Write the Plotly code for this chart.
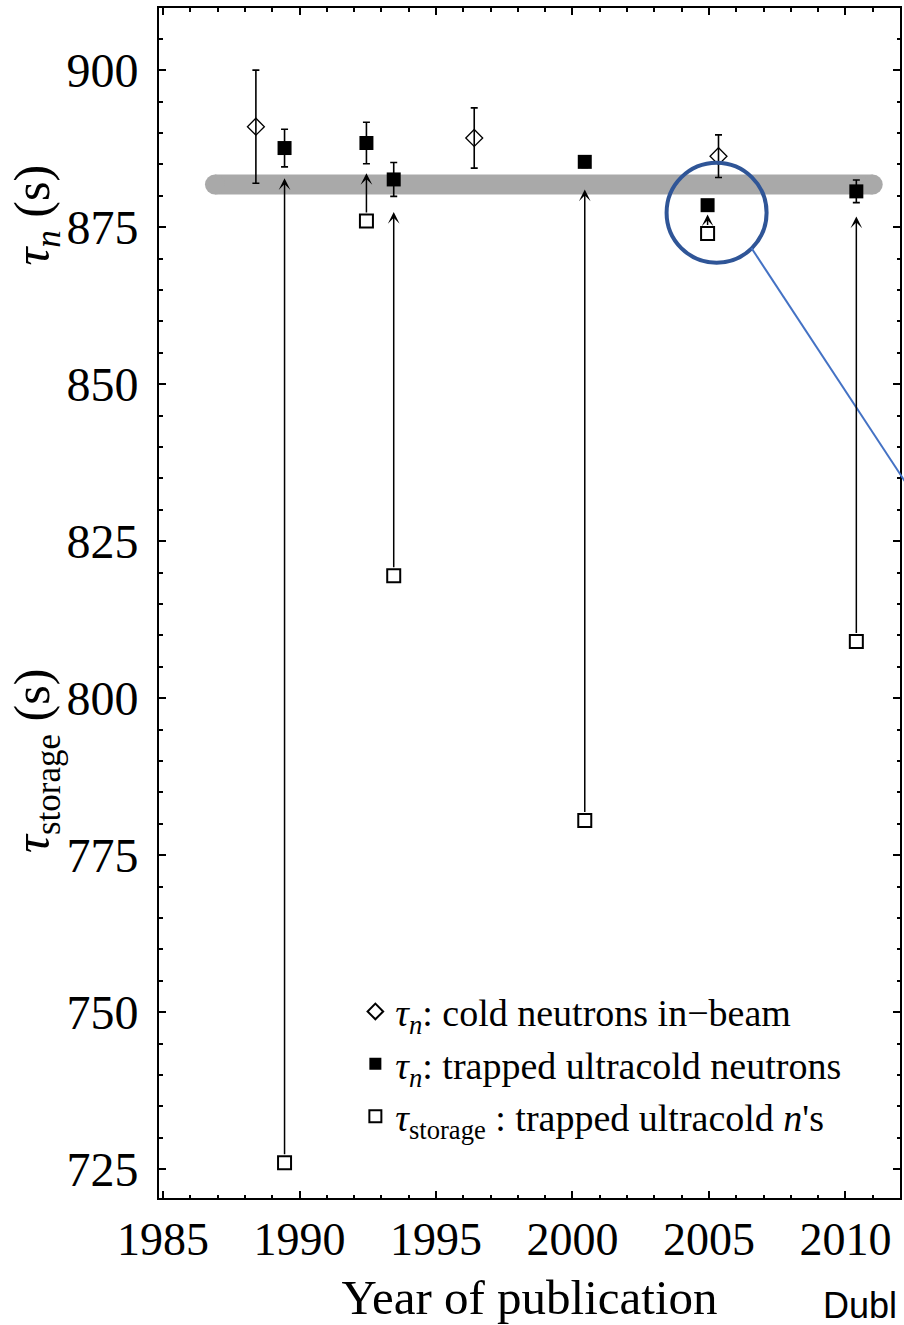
import plotly.graph_objects as go

# Neutron lifetime measurements by year of publication
beam_year = [1988.4, 1996.4, 2005.35]
beam_tau = [891.0, 889.2, 886.3]
beam_err = [9.0, 4.8, 3.4]

trap_year = [1989.45, 1992.45, 1993.45, 2000.45, 2004.95, 2010.4]
trap_tau = [887.6, 888.4, 882.6, 885.4, 878.5, 880.7]
trap_err = [3.0, 3.3, 2.7, 0.9, 0.8, 1.8]

storage_tau = [726.0, 876.0, 819.5, 780.5, 874.0, 809.0]
arrow_tip = [882.8, 883.6, 877.4, 881.0, 877.0, 876.7]

band_year = [1986.9, 2011.0]
band_tau = [881.8, 881.8]

x_ticks = [1985, 1990, 1995, 2000, 2005, 2010]
y_ticks = [725, 750, 775, 800, 825, 850, 875, 900]

SERIF = "Liberation Serif, Times New Roman, serif"

fig = go.Figure()

# world-average band
fig.add_trace(go.Scatter(
    x=band_year, y=band_tau, mode="lines+markers",
    line=dict(color="#a9a9a9", width=20),
    marker=dict(color="#a9a9a9", size=20),
    showlegend=False, hoverinfo="skip"))

fig.add_trace(go.Scatter(
    x=beam_year, y=beam_tau, mode="markers",
    name="<i>τ</i><sub><i>n</i></sub>: cold neutrons in\u2212beam",
    legendgroup="a",
    marker=dict(symbol="diamond-open", size=13, color="black",
                line=dict(width=1.3, color="black")),
    error_y=dict(type="data", array=beam_err, color="black",
                 thickness=1.6, width=3.5)))

fig.add_trace(go.Scatter(
    x=trap_year, y=trap_tau, mode="markers",
    name="<i>τ</i><sub><i>n</i></sub>: trapped ultracold neutrons",
    legendgroup="b",
    marker=dict(symbol="square", size=14, color="black"),
    error_y=dict(type="data", array=trap_err, color="black",
                 thickness=1.6, width=3.5)))

fig.add_trace(go.Scatter(
    x=trap_year, y=storage_tau, mode="markers",
    name="<i>τ</i><sub>storage</sub> : trapped ultracold <i>n</i>'s",
    legendgroup="c",
    marker=dict(symbol="square", size=13, color="white",
                line=dict(width=2, color="black"))))

# arrows from storage time to corrected lifetime
for yr, lo, hi in zip(trap_year, storage_tau, arrow_tip):
    fig.add_annotation(
        x=yr, y=hi, ax=yr, ay=lo, xref="x", yref="y", axref="x", ayref="y",
        text="", showarrow=True, arrowhead=3, arrowsize=1.3,
        arrowwidth=1.5, arrowcolor="black", startstandoff=7)

# axis titles on the left
fig.add_annotation(x=-0.166, y=877, xref="paper", yref="y",
                   xanchor="center", yanchor="middle",
                   text="<i>τ</i><sub><i>n</i></sub> (s)", textangle=-90,
                   showarrow=False, font=dict(family=SERIF, size=50, color="black"))
fig.add_annotation(x=-0.166, y=790, xref="paper", yref="y",
                   xanchor="center", yanchor="middle",
                   text="<i>τ</i><sub>storage</sub> (s)", textangle=-90,
                   showarrow=False, font=dict(family=SERIF, size=50, color="black"))

# highlight circle and leader line
fig.add_shape(type="circle", xref="x", yref="y", xsizemode="pixel", ysizemode="pixel",
              xanchor=2005.28, yanchor=877.3, x0=-50, x1=50, y0=-50, y1=50,
              line=dict(color="#2f5597", width=4), layer="above")
fig.add_shape(type="line", xref="paper", yref="paper",
              x0=0.7995, y0=0.7983, x1=1.0377, y1=0.5728,
              line=dict(color="#4472c4", width=2), layer="above")

fig.add_annotation(x=1.0, y=-0.0905, xref="paper", yref="paper",
                   xanchor="left", yanchor="middle", text="Dubl", showarrow=False,
                   xshift=-79,
                   font=dict(family="Liberation Sans, Arial, sans-serif", size=36, color="black"))

axis_common = dict(
    showline=True, mirror="ticks", linecolor="black", linewidth=2,
    ticks="inside", tickcolor="black", tickwidth=1.5, ticklen=7,
    showgrid=False, zeroline=False,
)

fig.update_xaxes(
    range=[1984.85, 2012.0], tickvals=x_ticks,
    minor=dict(dtick=1, ticks="inside", ticklen=3.5, tickcolor="black", tickwidth=1.5),
    title=dict(text="Year of publication", font=dict(family=SERIF, size=49, color="black"),
               standoff=18),
    ticklabelstandoff=0,
    tickfont=dict(family=SERIF, size=46, color="black"),
    **axis_common)
fig.update_yaxes(
    range=[720.4, 909.9], tickvals=y_ticks,
    minor=dict(dtick=5, ticks="inside", ticklen=3.5, tickcolor="black", tickwidth=1.5),
    ticklabelstandoff=9,
    tickfont=dict(family=SERIF, size=48, color="black"),
    **axis_common)

fig.update_layout(
    width=904, height=1325,
    margin=dict(l=159, r=2, t=8, b=127),
    paper_bgcolor="white", plot_bgcolor="white",
    font=dict(family=SERIF, color="black"),
    legend=dict(x=0.265, y=0.183, xanchor="left", yanchor="top",
                bgcolor="rgba(0,0,0,0)", borderwidth=0,
                font=dict(family=SERIF, size=38, color="black"),
                itemsizing="constant", tracegroupgap=0, traceorder="grouped"),
)

fig.write_html("out.html")
